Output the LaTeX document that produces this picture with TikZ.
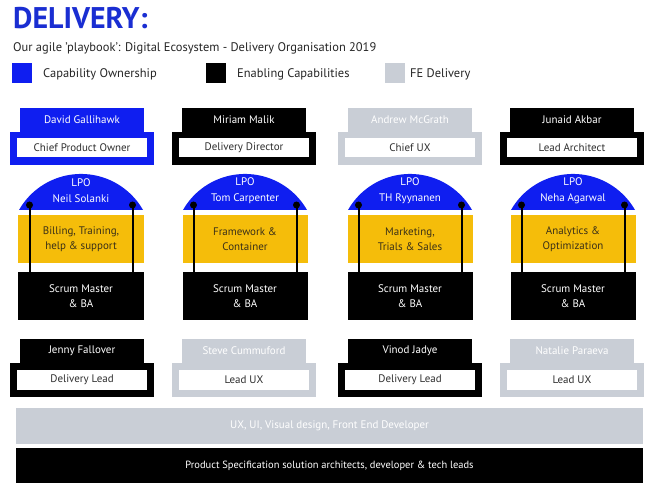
\documentclass[tikz,border=0pt]{standalone}
\usepackage{fontspec}
\setmainfont{PT Sans}
\definecolor{cblue}{HTML}{0F1EF0}
\definecolor{tblue}{HTML}{1A2ED2}
\definecolor{cgray}{HTML}{C9CED6}
\definecolor{cyellow}{HTML}{F5BD0A}
\definecolor{tdark}{HTML}{2E2E2E}
\definecolor{ydark}{HTML}{3A3018}
\tikzset{
  base/.style={inner sep=0pt, outer sep=0pt, align=center, font=\fontsize{11}{13}\selectfont},
  tabbox/.style={base, minimum width=124bp, minimum height=24bp, text=white},
  outerbox/.style={base, minimum width=144bp, minimum height=33bp},
  innerbox/.style={base, fill=white, minimum width=130bp, minimum height=19bp, text=tdark},
  domelbl/.style={base, text=white, font=\fontsize{11}{16}\selectfont},
  ybox/.style={base, fill=cyellow, minimum width=125bp, minimum height=48bp, text=ydark, font=\fontsize{11}{15}\selectfont},
  smbox/.style={base, fill=black, minimum width=125bp, minimum height=48bp, text=white, font=\fontsize{11}{15}\selectfont},
  dotc/.style={circle, fill=black, minimum size=7bp, inner sep=0pt},
  conn/.style={line width=2bp, black},
  legsq/.style={minimum size=20bp, inner sep=0pt},
  legtxt/.style={inner sep=0pt, anchor=base west, font=\fontsize{12.5}{14}\selectfont, text=black!85},
  band/.style={base, minimum width=627bp, text=white}
}
\begin{document}
\begin{tikzpicture}[x=1bp,y=1bp]
\fill[white] (0,0) rectangle (645,-483);
\useasboundingbox (0,0) rectangle (645,-483);

% header
\node[inner sep=0pt, anchor=base west, text=tblue, font=\fontsize{30}{32}\bfseries] (title) at (13,-29) {DELIVERY:};
\node[inner sep=0pt, anchor=base west, font=\fontsize{12.5}{14}\selectfont, text=black!85] (sub) at (13,-52) {Our agile 'playbook': Digital Ecosystem - Delivery Organisation 2019};
\node[legsq, fill=cblue] (lg1) at (22,-73) {};
\node[legtxt] (lt1) at (43,-78) {Capability Ownership};
\node[legsq, fill=black] (lg2) at (216,-73) {};
\node[legtxt] (lt2) at (237,-78) {Enabling Capabilities};
\node[legsq, fill=cgray] (lg3) at (395,-73) {};
\node[legtxt] (lt3) at (410,-78) {FE Delivery};

% top row of leaders
\foreach \i/\c/\col/\who/\role in {1/82/cblue/David Gallihawk/Chief Product Owner,
                                   2/244/black/Miriam Malik/Delivery Director,
                                   3/410/cgray/Andrew McGrath/Chief UX,
                                   4/572/black/Junaid Akbar/Lead Architect}{
  \node[outerbox, fill=\col] (ob\i) at (\c,-148.5) {};
  \node[tabbox, fill=\col] (tb\i) at (\c,-120) {\who};
  \node[innerbox] (ib\i) at (\c,-148) {\role};
}

% squads
\foreach \i/\c/\lpo/\area in {1/81/Neil Solanki/{Billing, Training,\\help \& support},
                              2/245/Tom Carpenter/{Framework \&\\Container},
                              3/410/TH Ryynanen/{Marketing,\\Trials \& Sales},
                              4/573/Neha Agarwal/{Analytics \&\\Optimization}}{
  \fill[cblue] ({\c-62},-210) arc[start angle=150.3, end angle=29.7, radius=71.4] -- cycle;
  \node[domelbl] (dm\i) at (\c,-191) {LPO\\\lpo};
  \node[ybox] (yb\i) at (\c,-239) {\area};
  \node[smbox] (sm\i) at (\c,-296) {Scrum Master\\\& BA};
  \node[dotc] (dl\i) at ({\c-51.5},-205) {};
  \node[dotc] (dr\i) at ({\c+51.5},-205) {};
  \draw[conn] (dl\i.center) -- (dl\i.center |- sm\i.north);
  \draw[conn] (dr\i.center) -- (dr\i.center |- sm\i.north);
}

% bottom row of leads
\foreach \i/\c/\col/\who/\role in {1/82/black/Jenny Fallover/Delivery Lead,
                                   2/244/cgray/Steve Cummuford/Lead UX,
                                   3/410/black/Vinod Jadye/Delivery Lead,
                                   4/572/cgray/Natalie Paraeva/Lead UX}{
  \node[outerbox, fill=\col, minimum height=34bp] (lb\i) at (\c,-380) {};
  \node[tabbox, fill=\col] (lt\i) at (\c,-351) {\who};
  \node[innerbox, minimum height=20bp] (li\i) at (\c,-380) {\role};
}

% bands
\node[band, fill=cgray, minimum height=36bp] (fe) at (329.5,-426) {UX, UI, Visual design, Front End Developer};
\node[band, fill=black, minimum height=35bp, font=\fontsize{10.5}{12}\selectfont] (ps) at (329.5,-465.5) {Product Specification solution architects, developer \& tech leads};
\end{tikzpicture}
\end{document}
